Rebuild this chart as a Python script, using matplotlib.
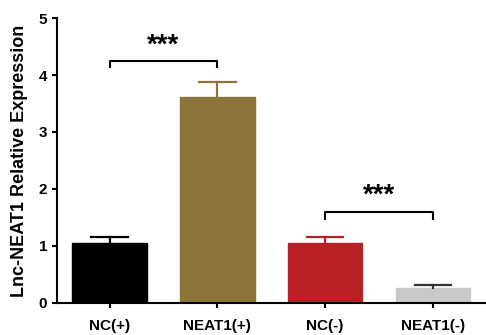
import matplotlib
matplotlib.use("Agg")
import matplotlib.pyplot as plt

categories = ["NC(+)", "NEAT1(+)", "NC(-)", "NEAT1(-)"]
values = [1.05, 3.61, 1.05, 0.26]
errors = [0.11, 0.27, 0.11, 0.06]
bar_colors = ["#000000", "#8B7538", "#B92025", "#C9C9C9"]
err_colors = ["#000000", "#8B7538", "#B92025", "#333333"]
y_ticks = [0, 1, 2, 3, 4, 5]
sig_pairs = [(0, 1), (2, 3)]
sig_labels = ["***", "***"]
bracket_y = [4.25, 1.60]
bracket_drop = [0.11, 0.13]
star_y = [4.28, 1.65]

plt.rcParams['font.family'] = ['Liberation Sans', 'DejaVu Sans']
fig = plt.figure(figsize=(4.86, 3.35), dpi=100)
ax = fig.add_axes([0.117, 0.096, 0.88, 0.85])

x = list(range(len(categories)))
cap_half = 0.17
for i in x:
    ax.bar(i, values[i], width=0.69, color=bar_colors[i], edgecolor=bar_colors[i], zorder=2)
    top = values[i] + errors[i]
    ax.plot([i, i], [values[i], top], color=err_colors[i], lw=1.6, zorder=3)
    ax.plot([i - cap_half, i + cap_half], [top, top], color=err_colors[i], lw=1.6, zorder=3)

for (a, b), lab, by, bd, sy in zip(sig_pairs, sig_labels, bracket_y, bracket_drop, star_y):
    ax.plot([a, a, b, b], [by - bd, by, by, by - bd], color='black', lw=1.5, zorder=4)
    ax.text((a + b) / 2, sy, lab, ha='center', va='bottom', fontsize=20, fontweight='bold')

ax.set_xlim(-0.49, 3.48)
ax.set_ylim(0, 5)
ax.set_yticks(y_ticks)
ax.set_yticklabels([str(t) for t in y_ticks], fontsize=11, fontweight='bold')
ax.set_xticks(x)
ax.set_xticklabels(categories, fontsize=11, fontweight='bold')
ax.set_ylabel("Lnc-NEAT1 Relative Expression", fontsize=13, fontweight='bold', labelpad=8)
ax.spines['top'].set_visible(False)
ax.spines['right'].set_visible(False)
ax.spines['left'].set_linewidth(1.5)
ax.spines['bottom'].set_linewidth(1.5)
ax.tick_params(axis='both', width=1.5, length=3.5, direction='out')
ax.tick_params(axis='x', pad=8)

fig.savefig("out.png", dpi=100)
